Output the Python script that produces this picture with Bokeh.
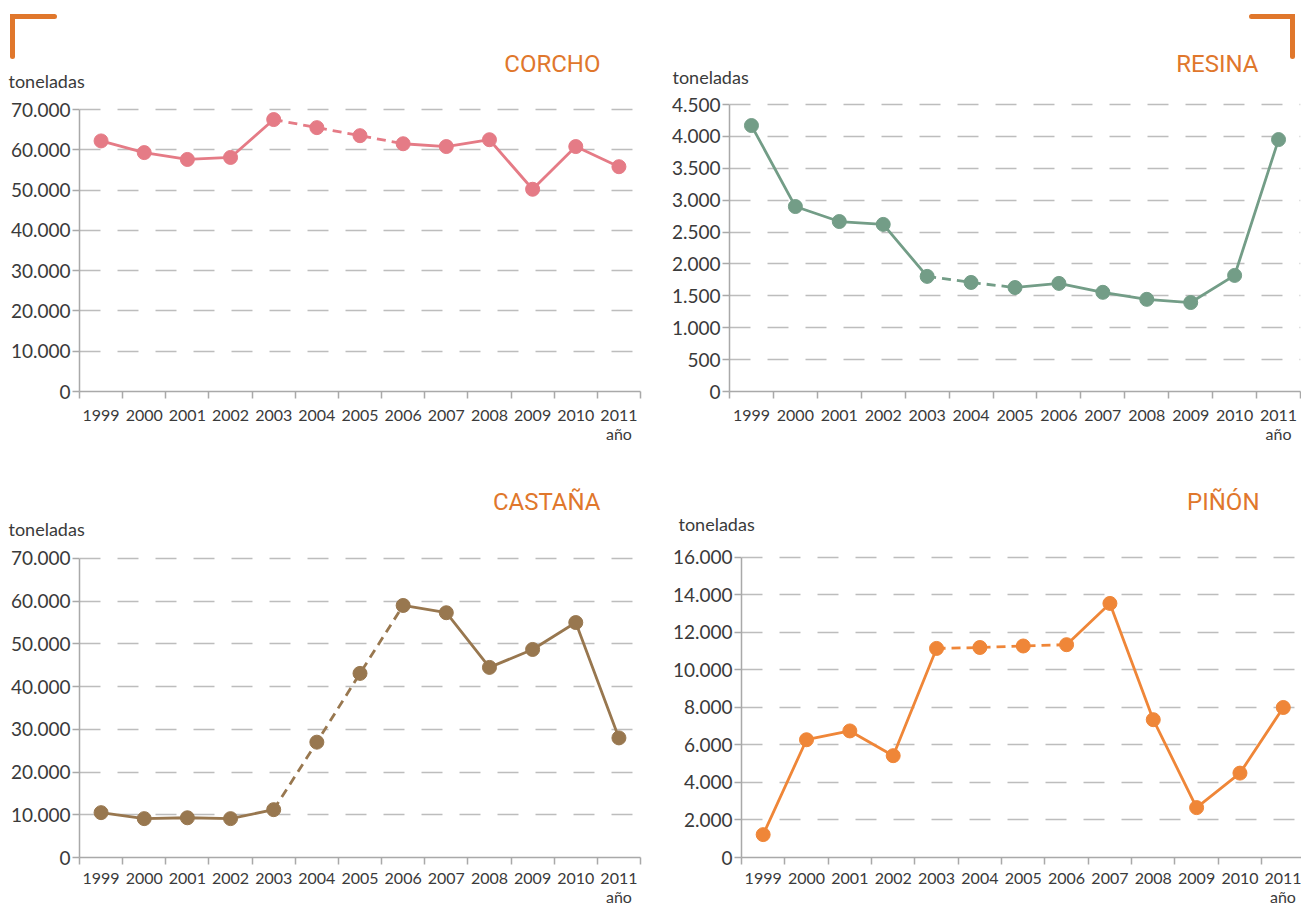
from bokeh.plotting import figure
from bokeh.layouts import column, row
from bokeh.models import Range1d, FixedTicker
from bokeh.core.properties import value
from bokeh.embed import file_html
from bokeh.resources import INLINE

# --- data (toneladas por año) ---
YEARS = [1999, 2000, 2001, 2002, 2003, 2004, 2005, 2006, 2007, 2008, 2009, 2010, 2011]
YEAR_LABELS = [str(y) for y in YEARS]

CORCHO = [62200, 59300, 57600, 58100, 67500, 65500, 63500, 61500, 60800, 62500, 50200, 60800, 55800]
RESINA = [4170, 2900, 2665, 2620, 1805, 1710, 1630, 1695, 1555, 1445, 1395, 1820, 3950]
CASTANA = [10500, 9100, 9300, 9100, 11200, 27000, 43100, 59000, 57300, 44500, 48700, 55000, 28000]
PINON = [1220, 6280, 6750, 5430, 11150, 11200, 11280, 11350, 13550, 7350, 2660, 4500, 8000]

# years joined by a dashed segment (estimated values)
CORCHO_DASHED = (2003, 2006)
RESINA_DASHED = (2003, 2005)
CASTANA_DASHED = (2003, 2006)
PINON_DASHED = (2003, 2006)

TICKS_70K = [0, 10000, 20000, 30000, 40000, 50000, 60000, 70000]
TICKS_70K_LABELS = ["0", "10.000", "20.000", "30.000", "40.000", "50.000", "60.000", "70.000"]
TICKS_4500 = [0, 500, 1000, 1500, 2000, 2500, 3000, 3500, 4000, 4500]
TICKS_4500_LABELS = ["0", "500", "1.000", "1.500", "2.000", "2.500", "3.000", "3.500", "4.000", "4.500"]
TICKS_16K = [0, 2000, 4000, 6000, 8000, 10000, 12000, 14000, 16000]
TICKS_16K_LABELS = ["0", "2.000", "4.000", "6.000", "8.000", "10.000", "12.000", "14.000", "16.000"]

UNIT = "toneladas"
X_NAME = "año"

ORANGE = "#E0772C"
AXIS_GRAY = "#A9A9A9"
GRID_GRAY = "#BDBDBD"
TEXT = "#3A3A3A"
FONT = "Lato"
TITLE_FONT = "Roboto"


def panel(values, dashed, color, ticks, tick_labels, width, height,
          left, right, top, bottom, pad, x_end=2011.5, label_standoff=6):
    """One line chart; `pad` is the frame height (px) kept above the top grid line."""
    ymax = ticks[-1]
    fh = height - top - bottom
    y_end = ymax * fh / (fh - pad)
    p = figure(width=width, height=height, x_range=Range1d(1998.5, x_end),
               y_range=Range1d(0, y_end), output_backend="svg", toolbar_location=None,
               min_border_left=left, min_border_right=right,
               min_border_top=top, min_border_bottom=bottom)
    p.outline_line_color = None
    p.xgrid.visible = False
    p.ygrid.grid_line_color = GRID_GRAY
    p.ygrid.grid_line_width = 1.5
    p.ygrid.grid_line_dash = "21 17"

    ya = p.yaxis[0]
    ya.ticker = FixedTicker(ticks=ticks, minor_ticks=[])
    ya.major_label_overrides = {t: s for t, s in zip(ticks, tick_labels)}
    ya.bounds = (0, ymax)
    ya.axis_line_color = AXIS_GRAY
    ya.axis_line_width = 1.5
    ya.major_tick_line_color = AXIS_GRAY
    ya.major_tick_line_width = 1.5
    ya.major_tick_out = 7
    ya.major_tick_in = 0
    ya.minor_tick_line_color = None
    ya.major_label_text_font = FONT
    ya.major_label_text_font_size = "19px"
    ya.major_label_text_color = TEXT
    ya.major_label_standoff = 2

    xa = p.xaxis[0]
    xa.ticker = FixedTicker(ticks=YEARS, minor_ticks=[y - 0.5 for y in YEARS] + [YEARS[-1] + 0.5])
    labels = {y: s for y, s in zip(YEARS, YEAR_LABELS)}
    labels[YEARS[-1]] = YEAR_LABELS[-1] + "\n" + X_NAME
    xa.major_label_overrides = labels
    xa.axis_label = None
    xa.axis_label_standoff = 0
    xa.bounds = (1998.5, x_end)
    xa.axis_line_color = AXIS_GRAY
    xa.axis_line_width = 1.5
    xa.major_tick_line_color = None
    xa.major_tick_out = 0
    xa.major_tick_in = 0
    xa.minor_tick_line_color = AXIS_GRAY
    xa.minor_tick_line_width = 1.5
    xa.minor_tick_out = 7
    xa.minor_tick_in = 0
    xa.major_label_text_font = FONT
    xa.major_label_text_font_size = "16px"
    xa.major_label_text_line_height = 1.0
    xa.major_label_text_color = TEXT
    xa.major_label_standoff = label_standoff

    i0 = YEARS.index(dashed[0])
    i1 = YEARS.index(dashed[1])
    p.line(YEARS[:i0 + 1], values[:i0 + 1], line_color=color, line_width=2.8)
    p.line(YEARS[i0:i1 + 1], values[i0:i1 + 1], line_color=color, line_width=2.8, line_dash="9 6")
    p.line(YEARS[i1:], values[i1:], line_color=color, line_width=2.8)
    p.scatter(YEARS, values, size=14, fill_color=color, line_color=color)
    return p


def header(height, titles, units, corners):
    """Strip above a row of charts: product names, unit captions and corner brackets."""
    h = figure(width=1301, height=height, x_range=Range1d(0, 1301), y_range=Range1d(height, 0),
               output_backend="svg", toolbar_location=None, min_border=0,
               x_axis_location=None, y_axis_location=None)
    h.outline_line_color = None
    h.grid.visible = False
    tx, ty, tt = titles
    h.text(x=tx, y=ty, text=tt, text_align="right", text_baseline="middle",
           text_font=value(TITLE_FONT), text_font_size="24px", text_color=ORANGE)
    ux, uy = units
    h.text(x=ux, y=uy, text=[UNIT] * len(ux), text_align="left", text_baseline="middle",
           text_font=value(FONT), text_font_size="18px", text_color=TEXT)
    if corners:
        cx, cy = corners
        h.multi_line(xs=cx, ys=cy, line_color=ORANGE, line_width=5,
                     line_cap="round", line_join="miter")
    return h


HEAD = 90

top_header = header(HEAD,
                    ([600, 1258], [63, 63], ["CORCHO", "RESINA"]),
                    ([8, 672], [80, 76]),
                    ([[54, 12, 12], [1251, 1292, 1292]], [[16, 16, 56], [16, 16, 56]]))
bottom_header = header(HEAD,
                       ([600, 1259], [47, 47], ["CASTAÑA", "PIÑÓN"]),
                       ([8, 678], [74, 69]),
                       None)

p1 = panel(CORCHO, CORCHO_DASHED, "#E57B86", TICKS_70K, TICKS_70K_LABELS,
           650, 364, 79, 10, 8, 63, pad=11)
p2 = panel(RESINA, RESINA_DASHED, "#739D87", TICKS_4500, TICKS_4500_LABELS,
           651, 364, 79, 1, 8, 63, pad=6)
p3 = panel(CASTANA, CASTANA_DASHED, "#98774F", TICKS_70K, TICKS_70K_LABELS,
           650, 364, 79, 10, 8, 50, pad=6, label_standoff=3)
p4 = panel(PINON, PINON_DASHED, "#EF8638", TICKS_16K, TICKS_16K_LABELS,
           651, 364, 91, 0, 8, 50, pad=5, x_end=2011.42, label_standoff=3)

layout = column(top_header, row(p1, p2, spacing=0),
                bottom_header, row(p3, p4, spacing=0), spacing=0)
open("out.html", "w").write(file_html(layout, INLINE))
